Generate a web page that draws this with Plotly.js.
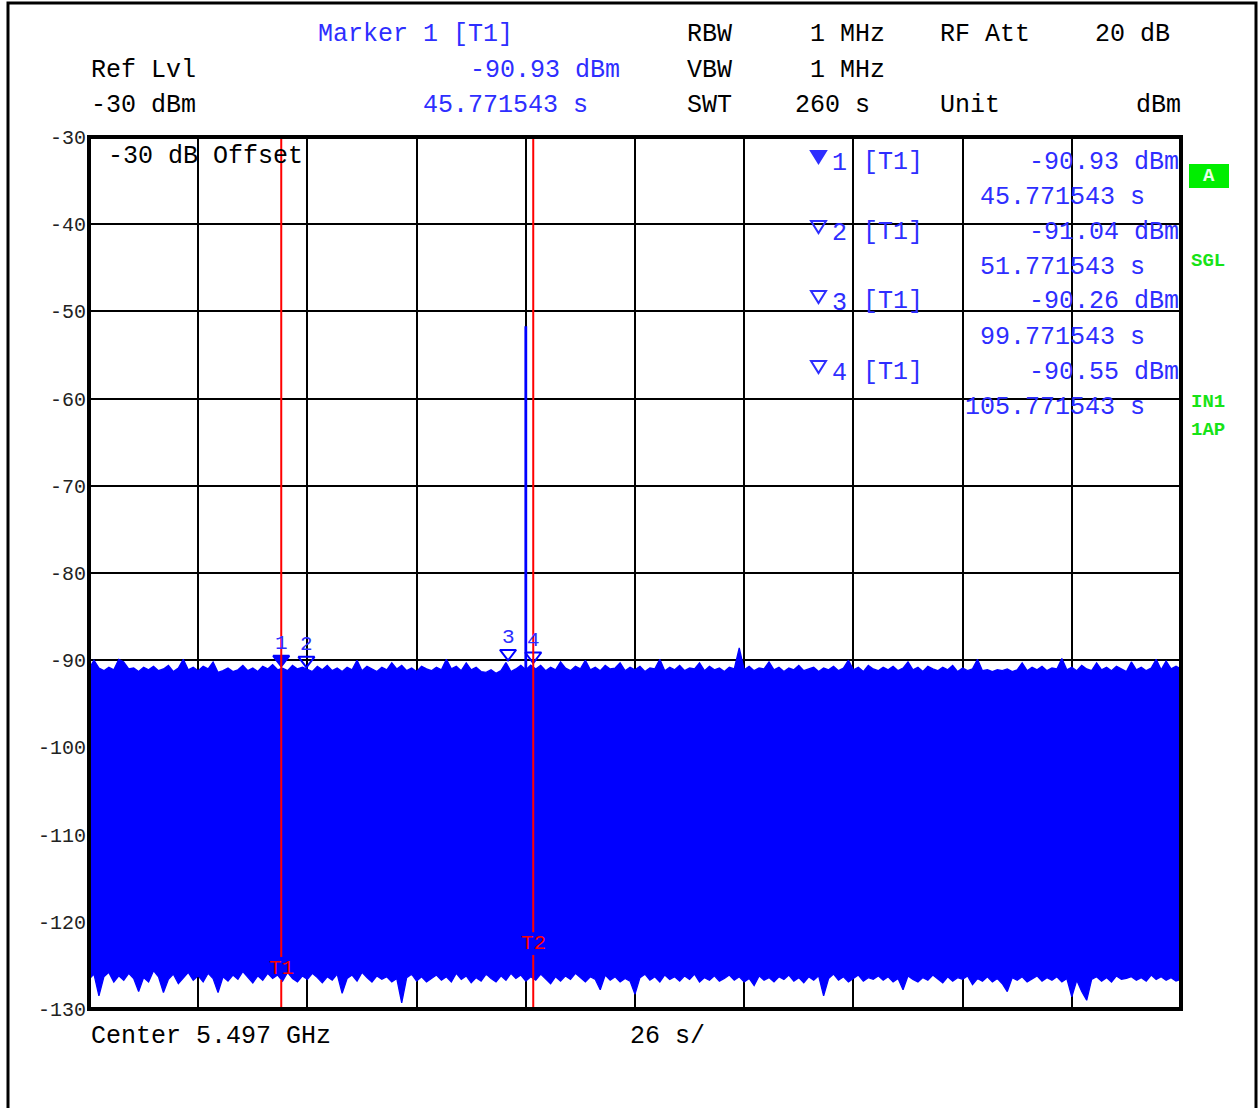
<!DOCTYPE html>
<html><head><meta charset="utf-8">
<script src="https://cdn.plot.ly/plotly-3.0.1.min.js"></script>
<style>html,body{margin:0;padding:0;background:#fff}#chart{width:1258px;height:1108px}</style>
</head><body><div id="chart"></div><script>
// ---------------- data ----------------
const sweepTime = 260;            // s, zero span sweep
const timePerDiv = 26;            // s/div
const refLevel = -30;             // dBm
const bottomLevel = -130;         // dBm
const levelPerDiv = 10;           // dB/div

// upper envelope of the noise trace (dBm), evenly spaced over the sweep
const upperEnvelope = [
 -91.0,-90.0,-90.9,-91.2,-90.8,-91.1,-89.9,-90.2,-91.0,-90.9,
 -91.3,-90.8,-91.1,-90.7,-91.2,-91.0,-90.6,-91.3,-90.9,-89.9,
 -91.1,-90.8,-91.2,-90.7,-91.0,-90.2,-91.4,-91.2,-90.9,-91.3,
 -91.1,-90.6,-91.2,-90.9,-91.3,-90.7,-91.0,-90.5,-91.1,-90.93,
 -91.2,-90.6,-91.0,-90.8,-91.04,-91.3,-90.7,-91.1,-90.6,-91.2,
 -90.9,-91.3,-90.8,-91.1,-90.0,-91.2,-90.7,-91.0,-91.3,-90.8,
 -91.1,-90.3,-91.0,-90.6,-91.2,-90.9,-91.3,-90.7,-91.0,-91.2,
 -90.8,-91.1,-89.9,-91.0,-90.7,-91.2,-90.3,-91.1,-90.8,-91.3,
 -91.4,-91.1,-91.5,-91.2,-90.26,-91.3,-91.0,-90.6,-91.1,-90.55,
 -91.0,-90.6,-91.2,-90.8,-91.1,-90.2,-90.9,-91.2,-90.7,-91.0,
 -90.0,-91.1,-90.8,-91.2,-90.6,-91.0,-90.9,-90.3,-91.2,-90.8,
 -91.1,-90.7,-91.3,-90.9,-91.0,-89.9,-91.2,-90.8,-91.1,-90.6,
 -91.2,-90.9,-91.0,-90.3,-91.2,-90.7,-91.1,-90.9,-91.3,-90.8,
 -91.0,-88.6,-91.1,-90.7,-91.2,-90.9,-91.0,-90.2,-91.1,-90.8,
 -91.3,-90.9,-91.1,-90.6,-91.2,-91.0,-90.8,-91.3,-90.9,-91.1,
 -90.7,-91.2,-90.9,-90.0,-91.1,-90.8,-91.3,-90.6,-91.0,-91.2,
 -90.8,-91.1,-90.7,-91.2,-90.9,-90.2,-91.1,-90.8,-91.3,-90.7,
 -91.0,-91.2,-90.8,-91.1,-90.6,-91.3,-90.9,-91.2,-91.0,-89.9,
 -91.2,-91.1,-91.3,-91.1,-91.2,-91.0,-91.3,-91.1,-90.3,-91.2,
 -90.8,-91.1,-90.7,-91.2,-90.9,-91.0,-89.8,-91.1,-90.8,-91.2,
 -90.6,-91.0,-91.2,-90.3,-91.1,-90.8,-91.2,-90.7,-91.0,-91.3,
 -90.2,-91.1,-90.8,-91.2,-90.9,-89.9,-91.1,-90.1,-91.0,-90.7,
 -91.0
];
// lower envelope of the noise trace (dBm)
const lowerEnvelope = [
 -126.6,-126.0,-128.5,-126.3,-125.8,-126.9,-126.2,-126.7,-125.9,-126.5,
 -128.0,-126.4,-126.9,-125.6,-126.3,-128.1,-126.6,-126.0,-127.1,-126.4,
 -125.8,-126.7,-126.2,-126.9,-125.9,-126.5,-128.1,-126.3,-126.8,-126.1,
 -126.6,-125.7,-126.4,-127.0,-126.2,-126.7,-125.9,-126.5,-126.1,-126.8,
 -125.8,-126.5,-126.9,-126.2,-126.6,-125.9,-126.4,-127.0,-126.3,-126.7,
 -126.0,-128.2,-126.5,-126.1,-126.8,-125.8,-126.4,-126.9,-126.2,-126.6,
 -126.3,-126.9,-126.5,-129.3,-126.4,-126.0,-126.8,-126.3,-126.9,-126.5,
 -126.1,-126.7,-126.3,-126.9,-125.9,-126.6,-126.2,-127.0,-126.4,-126.8,
 -126.0,-126.5,-126.9,-126.2,-126.7,-125.9,-126.5,-126.1,-126.8,-126.3,
 -126.7,-126.0,-126.5,-127.1,-126.3,-126.8,-126.2,-126.6,-125.9,-126.4,
 -126.9,-126.3,-126.6,-127.8,-126.1,-126.7,-126.3,-126.9,-126.5,-126.8,
 -128.3,-126.4,-126.0,-126.7,-126.3,-126.9,-126.1,-126.6,-126.3,-126.8,
 -126.2,-126.6,-126.0,-126.9,-126.4,-126.7,-126.2,-126.8,-126.5,-126.1,
 -126.7,-126.3,-126.9,-126.5,-127.3,-126.2,-126.7,-126.4,-126.9,-126.3,
 -126.6,-126.1,-126.8,-126.4,-127.0,-126.3,-126.7,-126.2,-128.5,-126.5,
 -126.0,-126.7,-126.3,-126.9,-126.5,-126.1,-126.8,-126.4,-126.6,-126.2,
 -126.7,-126.3,-126.9,-126.5,-127.8,-126.2,-126.6,-126.9,-126.4,-126.7,
 -126.1,-126.5,-127.0,-126.3,-126.8,-126.4,-126.6,-126.2,-127.2,-126.5,
 -126.8,-126.3,-126.9,-126.5,-127.1,-128.0,-126.4,-126.7,-126.3,-126.9,
 -126.5,-126.2,-126.8,-126.4,-126.7,-126.3,-126.9,-126.5,-128.6,-126.7,
 -128.0,-129.0,-126.6,-126.3,-126.8,-126.4,-126.9,-126.2,-126.6,-126.5,
 -126.3,-126.7,-126.4,-126.8,-126.1,-126.6,-126.3,-126.7,-126.4,-126.8,
 -126.6
];
// single burst in the trace
const spikeTime = 104.0;      // s
const spikePeak = -51.7;      // dBm
const spikeBase = -91.0;      // dBm

// markers
const markerIds = ['1', '2', '3', '4'];
const markerTimes = [45.771543, 51.771543, 99.771543, 105.771543];
const markerLevels = [-90.93, -91.04, -90.26, -90.55];
const markerLevelLabels = ['-90.93 dBm', '-91.04 dBm', '-90.26 dBm', '-90.55 dBm'];
const markerTimeLabels = ['45.771543 s', '51.771543 s', '99.771543 s', '105.771543 s'];
const markerTraces = ['[T1]', '[T1]', '[T1]', '[T1]'];

// time lines
const timeLineNames = ['T1', 'T2'];
const timeLineTimes = [45.771543, 105.771543];

// tick labels
const yTickVals = [-30, -40, -50, -60, -70, -80, -90, -100, -110, -120, -130];
const yTickText = ['-30', '-40', '-50', '-60', '-70', '-80', '-90', '-100', '-110', '-120', '-130'];

// header texts
const headerRow1 = ['Marker 1 [T1]', 'RBW', '1 MHz', 'RF Att', '20 dB'];
const headerRow2 = ['Ref Lvl', '-90.93 dBm', 'VBW', '1 MHz'];
const headerRow3 = ['-30 dBm', '45.771543 s', 'SWT', '260 s', 'Unit', 'dBm'];
const offsetText = '-30 dB Offset';
const footerLeft = 'Center 5.497 GHz';
const footerMid = '26 s/';
const statusLabels = ['A', 'SGL', 'IN1', '1AP'];

// ---------------- drawing ----------------
const MONO = 'Liberation Mono, Courier New, monospace';
const FS = 25;
const BLUE = '#0000ff';
const TXTBLUE = '#2e2eff';
const GREEN = '#17e317';
const L = 89, R = 1181, T = 137, B = 1009;
const px = x => (x - L) / (R - L);
const py = y => (B - y) / (B - T);
const dbPerPx = (refLevel - bottomLevel) / (B - T);

const n = upperEnvelope.length;
const times = upperEnvelope.map((_, i) => i * sweepTime / (n - 1));

const traces = [
  {x: times, y: lowerEnvelope, mode: 'lines', line: {color: BLUE, width: 1.3}, hoverinfo: 'skip'},
  {x: times, y: upperEnvelope, mode: 'lines', line: {color: BLUE, width: 1.3}, fill: 'tonexty', fillcolor: BLUE, hoverinfo: 'skip'},
  {x: [spikeTime, spikeTime], y: [spikeBase, spikePeak], mode: 'lines', line: {color: BLUE, width: 2.8}, hoverinfo: 'skip'},
  {x: markerTimes, y: markerLevels.map(v => v + 9 * dbPerPx), mode: 'markers',
   marker: {symbol: markerIds.map((_, i) => i === 0 ? 'triangle-down' : 'triangle-down-open'), size: 14,
            color: BLUE, line: {color: BLUE, width: 2}}, hoverinfo: 'skip'}
];

const ann = [];
function txt(text, x, y, o) {
  o = o || {};
  ann.push({text: text, xref: 'paper', yref: 'paper', x: px(x), y: py(y), showarrow: false,
    xanchor: o.xa || 'left', yanchor: 'middle',
    font: {family: MONO, size: o.size || FS, color: o.color || '#000', weight: o.weight || 'normal'}});
}
// header
txt(headerRow1[0], 316, 35, {color: TXTBLUE});
txt(headerRow1[1], 685, 35);
txt(headerRow1[2], 808, 35);
txt(headerRow1[3], 938, 35);
txt(headerRow1[4], 1093, 35);
txt(headerRow2[0], 89, 70);
txt(headerRow2[1], 622, 70, {color: TXTBLUE, xa: 'right'});
txt(headerRow2[2], 685, 70);
txt(headerRow2[3], 808, 70);
txt(headerRow3[0], 89, 105);
txt(headerRow3[1], 590, 105, {color: TXTBLUE, xa: 'right'});
txt(headerRow3[2], 685, 105);
txt(headerRow3[3], 793, 105);
txt(headerRow3[4], 938, 105);
txt(headerRow3[5], 1183, 105, {xa: 'right'});
txt(offsetText, 106, 157);
txt(footerLeft, 89, 1036);
txt(footerMid, 628, 1036);

// marker table
const shapes = [];
markerIds.forEach((id, k) => {
  const y0 = 162 + 70 * k;
  txt(id, 830, y0 + 1, {color: TXTBLUE});
  txt(markerTraces[k], 861, y0, {color: TXTBLUE});
  txt(markerLevelLabels[k], 1181, y0, {color: TXTBLUE, xa: 'right'});
  txt(markerTimeLabels[k], 1147, y0 + 35, {color: TXTBLUE, xa: 'right'});
  const top = y0 - 11, tip = y0 + 1;
  shapes.push({type: 'path', xref: 'paper', yref: 'paper', layer: 'above',
    path: `M ${px(811)} ${py(top)} L ${px(826)} ${py(top)} L ${px(818.5)} ${py(tip)} Z`,
    fillcolor: k === 0 ? TXTBLUE : 'rgba(0,0,0,0)', line: {color: TXTBLUE, width: 2}});
});

// marker numbers above the trace
markerIds.forEach((id, k) => {
  ann.push({text: id, x: markerTimes[k], y: markerLevels[k], xref: 'x', yref: 'y', showarrow: false,
    yshift: 25, xanchor: 'center', yanchor: 'middle', font: {family: MONO, size: 21, color: TXTBLUE}});
});

// red time lines with gaps for labels
const labelLevels = [-125.35, -122.5];
timeLineTimes.forEach((t, k) => {
  const c = labelLevels[k];
  const gapTop = c + 1.3, gapBot = c - 1.3;
  shapes.push({type: 'line', xref: 'x', yref: 'y', x0: t, x1: t, y0: refLevel, y1: gapTop, layer: 'above', line: {color: '#ff0000', width: 2}});
  shapes.push({type: 'line', xref: 'x', yref: 'y', x0: t, x1: t, y0: gapBot, y1: bottomLevel, layer: 'above', line: {color: '#ff0000', width: 2}});
  ann.push({text: timeLineNames[k], x: t, y: c, xref: 'x', yref: 'y', showarrow: false, xanchor: 'center', yanchor: 'middle',
    font: {family: MONO, size: 21, color: '#ff0000'}});
});

// status labels
shapes.push({type: 'rect', xref: 'paper', yref: 'paper', x0: px(1189), x1: px(1229), y0: py(188), y1: py(164),
  fillcolor: '#00ee00', line: {width: 0}, layer: 'above'});
ann.push({text: statusLabels[0], xref: 'paper', yref: 'paper', x: px(1209), y: py(176), showarrow: false,
  xanchor: 'center', yanchor: 'middle', font: {family: MONO, size: 19, color: '#e8ffe8', weight: 'bold'}});
txt(statusLabels[1], 1189, 261, {color: GREEN, size: 19, weight: 'bold'});
txt(statusLabels[2], 1189, 402, {color: GREEN, size: 19, weight: 'bold'});
txt(statusLabels[3], 1189, 430, {color: GREEN, size: 19, weight: 'bold'});

// frames
shapes.push({type: 'rect', xref: 'paper', yref: 'paper', x0: 0, x1: 1, y0: 0, y1: 1, layer: 'above', line: {color: '#000', width: 4}});
shapes.push({type: 'rect', xref: 'paper', yref: 'paper', x0: px(8), x1: px(1256), y0: py(1130), y1: py(3), layer: 'above', line: {color: '#000', width: 3}});

const layout = {
  width: 1258, height: 1108,
  margin: {l: L, r: 1258 - R, t: T, b: 1108 - B, pad: 0},
  paper_bgcolor: '#fff', plot_bgcolor: '#fff',
  showlegend: false,
  xaxis: {range: [0, sweepTime], tick0: 0, dtick: timePerDiv, showticklabels: false, ticks: '',
          showgrid: true, gridcolor: '#000', gridwidth: 2, zeroline: false, showline: false, fixedrange: true},
  yaxis: {range: [bottomLevel, refLevel], tickvals: yTickVals, ticktext: yTickText, ticks: '',
          showgrid: true, gridcolor: '#000', gridwidth: 2, zeroline: false, showline: false, fixedrange: true,
          tickfont: {family: MONO, size: 20, color: '#222'}, ticklabelstandoff: 2},
  shapes: shapes,
  annotations: ann
};
Plotly.newPlot('chart', traces, layout, {displayModeBar: false, staticPlot: true});
</script></body></html>
